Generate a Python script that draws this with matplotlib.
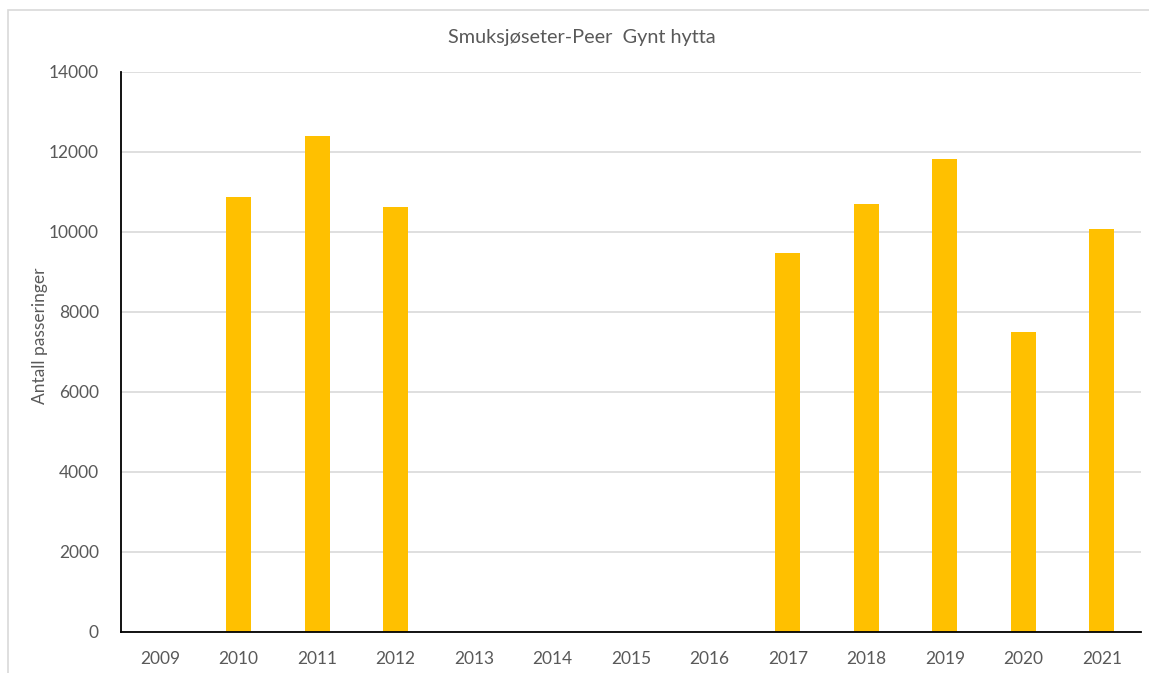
import matplotlib.pyplot as plt
from matplotlib.patches import Rectangle

# Data
years = ['2009', '2010', '2011', '2012', '2013', '2014', '2015', '2016',
         '2017', '2018', '2019', '2020', '2021']
passeringer = [0, 10875, 12400, 10625, 0, 0, 0, 0,
               9475, 10690, 11815, 7510, 10075]
yticks = [0, 2000, 4000, 6000, 8000, 10000, 12000, 14000]

plt.rcParams['font.family'] = ['Lato', 'DejaVu Sans']

fig = plt.figure(figsize=(11.49, 6.73), dpi=100)
ax = fig.add_axes([121 / 1149, 1 - 632 / 673, 1020 / 1149, 560 / 673])

# ramme rundt diagrammet
fig.patches.append(Rectangle((8 / 1149, -0.1), 1.2, 1 - 10 / 673 + 0.1,
                             transform=fig.transFigure, fill=False,
                             edgecolor='#d9d9d9', linewidth=1.2))

x = range(len(years))
ax.bar(x, passeringer, width=0.32, color='#ffc000', zorder=3)

ax.set_xlim(-0.5, len(years) - 0.5)
ax.set_ylim(0, 14000)
ax.set_yticks(yticks)
ax.set_yticklabels([str(v) for v in yticks])
ax.set_xticks(list(x))
ax.set_xticklabels(years)
ax.tick_params(length=0, labelsize=12.5, labelcolor='#595959')
ax.tick_params(axis='x', pad=14)
ax.tick_params(axis='y', pad=16)

ax.grid(axis='y', color='#d9d9d9', linewidth=1.2, zorder=0)
for s in ['top', 'right']:
    ax.spines[s].set_visible(False)
ax.spines['left'].set_color('black')
ax.spines['bottom'].set_color('black')
ax.spines['left'].set_linewidth(1.3)
ax.spines['bottom'].set_linewidth(1.3)
ax.spines['bottom'].set_zorder(4)

fig.text(40 / 1149, 1 - 336 / 673, 'Antall passeringer', rotation=90,
         ha='center', va='center', fontsize=12.5, color='#595959')
fig.text(582 / 1149, 1 - 38 / 673, 'Smuksjøseter-Peer  Gynt hytta', ha='center',
         va='center', fontsize=14.3, color='#595959')

plt.savefig('out.png', dpi=100)
